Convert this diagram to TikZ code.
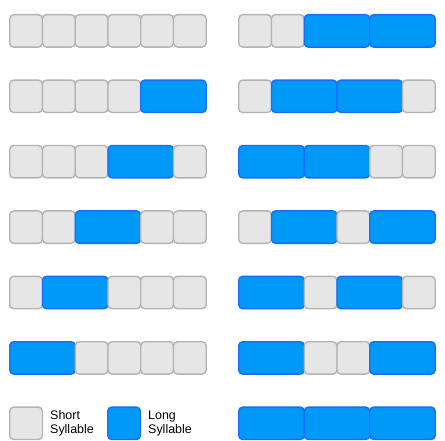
\documentclass[tikz,border=0pt]{standalone}
\usepackage{fontspec}
\setmainfont{Liberation Sans}
\definecolor{sfill}{HTML}{E6E6E6}
\definecolor{sdraw}{HTML}{B3B3B3}
\definecolor{lfill}{HTML}{0099F7}
\definecolor{ldraw}{HTML}{1A6CFF}
\newcommand\sylrow[4]{%
  \foreach \s/\n [count=\k] in {#4} {
    \node[sb\n] (#3-\k) at ({#1+\s*32.75}, #2) {};
  }%
}
\begin{document}
\begin{tikzpicture}[x=1bp,y=-1bp,
  box/.style={line width=1.4bp, rounded corners=4bp, inner sep=0pt, outer sep=0pt,
    minimum height=32.4bp, anchor=north west},
  sb1/.style={box, draw=sdraw, fill=sfill, minimum width=32.75bp},
  sb2/.style={box, draw=ldraw, fill=lfill, minimum width=65.5bp},
  lbl/.style={align=left, anchor=west, inner sep=0pt,
    font=\fontsize{12.5}{14.5}\selectfont}]
\useasboundingbox (0,0) rectangle (445,441);
% left column
\sylrow{9.7}{14.7}{La}{0/1,1/1,2/1,3/1,4/1,5/1}
\sylrow{9.7}{80.1}{Lb}{0/1,1/1,2/1,3/1,4/2}
\sylrow{9.7}{145.5}{Lc}{0/1,1/1,2/1,3/2,5/1}
\sylrow{9.7}{210.9}{Ld}{0/1,1/1,2/2,4/1,5/1}
\sylrow{9.7}{276.3}{Le}{0/1,1/2,3/1,4/1,5/1}
\sylrow{9.7}{341.7}{Lf}{0/2,2/1,3/1,4/1,5/1}
% right column
\sylrow{238.7}{14.7}{Ra}{0/1,1/1,2/2,4/2}
\sylrow{238.7}{80.1}{Rb}{0/1,1/2,3/2,5/1}
\sylrow{238.7}{145.5}{Rc}{0/2,2/2,4/1,5/1}
\sylrow{238.7}{210.9}{Rd}{0/1,1/2,3/1,4/2}
\sylrow{238.7}{276.3}{Re}{0/2,2/1,3/2,5/1}
\sylrow{238.7}{341.7}{Rf}{0/2,2/1,3/1,4/2}
\sylrow{238.7}{407.1}{Rg}{0/2,2/2,4/2}
% legend
\node[sb1] (keyS) at (9.7,407.1) {};
\node[lbl] (keySt) at (50,423.3) {Short\\Syllable};
\node[sb1, draw=ldraw, fill=lfill] (keyL) at (107.7,407.1) {};
\node[lbl] (keyLt) at (148,423.3) {Long\\Syllable};
\end{tikzpicture}
\end{document}
